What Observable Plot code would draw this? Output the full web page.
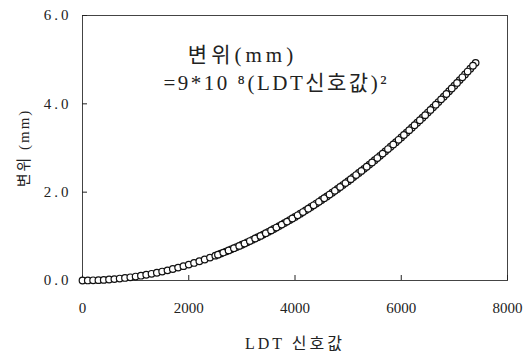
<!DOCTYPE html>
<html><head><meta charset="utf-8">
<script src="https://cdn.jsdelivr.net/npm/d3@7"></script>
<script src="https://cdn.jsdelivr.net/npm/@observablehq/plot@0.6"></script>
<style>body{margin:0;background:#fff}</style>
</head><body><div id="chart"></div>
<script>
const ldtSignal = [0,100,200,300,400,500,600,700,800,900,1000,1100,1200,1300,1400,1500,1600,1700,1800,1900,2000,2100,2200,2300,2400,2500,2600,2700,2800,2900,3000,3100,3200,3300,3400,3500,3600,3700,3800,3900,4000,4100,4200,4300,4400,4500,4600,4700,4800,4900,5000,5100,5200,5300,5400,5500,5600,5700,5800,5900,6000,6100,6200,6300,6400,6500,6600,6700,6800,6900,7000,7100,7200,7300,7400];
const displacement = [0,0.001,0.004,0.008,0.014,0.023,0.032,0.044,0.058,0.073,0.090,0.109,0.130,0.152,0.176,0.203,0.230,0.260,0.292,0.325,0.360,0.397,0.436,0.476,0.518,0.563,0.608,0.656,0.706,0.757,0.810,0.865,0.922,0.980,1.040,1.103,1.166,1.232,1.300,1.369,1.440,1.513,1.588,1.664,1.742,1.823,1.904,1.988,2.074,2.161,2.250,2.341,2.434,2.528,2.624,2.723,2.822,2.924,3.028,3.133,3.240,3.349,3.460,3.572,3.686,3.803,3.920,4.040,4.162,4.285,4.410,4.537,4.666,4.796,4.928];
const ldtSignalB = [2550,2650,2750,2850,2950,3050,3150,3250,3350,3450,3550,3650,3750,3850,3950,4050,4150,4250,4350,4450,4550,4650,4750,4850,4950,5050,5150,5250,5350,5450,5550,5650,5750,5850,5950,6050,6150,6250,6350,6450,6550,6650,6750,6850,6950,7050,7150,7250,7350];
const displacementB = [0.585,0.632,0.681,0.731,0.783,0.837,0.893,0.951,1.010,1.071,1.134,1.199,1.266,1.334,1.404,1.476,1.550,1.626,1.703,1.782,1.863,1.946,2.031,2.117,2.205,2.295,2.387,2.481,2.576,2.673,2.772,2.873,2.976,3.080,3.186,3.294,3.404,3.516,3.629,3.744,3.861,3.980,4.101,4.223,4.347,4.473,4.601,4.731,4.862];
const xTicks = [0,2000,4000,6000,8000];
const yTicks = [0,2,4,6];
const xLabel = "LDT 신호값";
const yLabel = "변위 (mm)";
const note1 = "변위(mm)";
const note2 = "=9*10 ⁸(LDT신호값)²";

const data = ldtSignal.map((x,i)=>({x, y: displacement[i]}))
  .concat(ldtSignalB.map((x,i)=>({x, y: displacementB[i]})));
const font = "'Liberation Serif','DejaVu Serif','Noto Sans CJK KR',serif";

const plot = Plot.plot({
  width: 529, height: 359,
  marginLeft: 82, marginRight: 22, marginTop: 15, marginBottom: 79,
  style: {fontFamily: font, fontSize: "14px", color: "#222", background: "#fff"},
  x: {domain: [0,8000]},
  y: {domain: [0,6]},
  marks: [
    Plot.frame({stroke: "#444", strokeWidth: 1}),
    Plot.axisX({ticks: xTicks, tickSize: 0, tickPadding: 22, fontSize: 15, tickFormat: d3.format("d"), label: null}),
    Plot.axisX({ticks: xTicks, tickSize: -5, text: null, label: null}),
    Plot.axisY({ticks: yTicks, tickSize: 0, tickPadding: 11, fontSize: 15, tickFormat: d => d.toFixed(1), label: yLabel, labelAnchor: "center", labelArrow: "none", labelOffset: 64}),
    Plot.axisY({ticks: yTicks, tickSize: -5, text: null, label: null}),
    Plot.dot(data, {x: "x", y: "y", r: 3.3, stroke: "#111", strokeWidth: 1.2, fill: "#fff"}),
    Plot.text([xLabel], {frameAnchor: "bottom", dy: 68, text: d => d, fontSize: 16}),
    Plot.text([note1], {frameAnchor: "top-left", dx: 160, dy: 32, text: d => d, fontSize: 21, textAnchor: "middle"}),
    Plot.text([note2], {frameAnchor: "top-left", dx: 81, dy: 60, text: d => d, fontSize: 21, textAnchor: "start"})
  ]
});
const svg = d3.select(plot);
svg.selectAll('g[aria-label="y-axis tick label"] text').style("letter-spacing", "3px");
svg.selectAll("text").each(function() {
  const t = this.textContent;
  if (t === note1) d3.select(this).style("letter-spacing", "4px");
  if (t === note2) d3.select(this).style("letter-spacing", "2.5px");
  if (t === xLabel) d3.select(this).style("letter-spacing", "3px");
  if (t === yLabel) d3.select(this).style("letter-spacing", "2px").style("font-size", "15px");
});
document.getElementById("chart").append(plot);
</script>
</body></html>
